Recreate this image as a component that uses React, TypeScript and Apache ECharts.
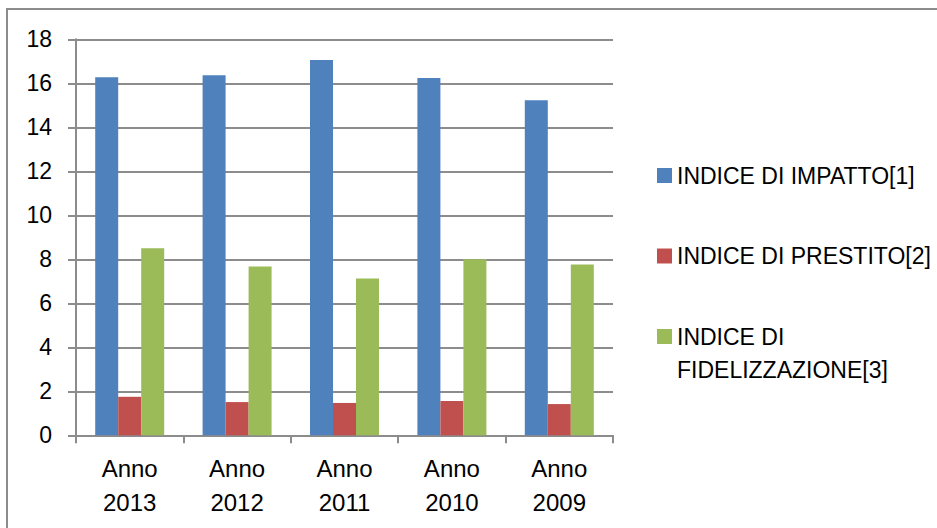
import React, { useEffect, useRef } from "react";
import * as echarts from "echarts";

// Years shown on the category axis
const categories = ["Anno 2013", "Anno 2012", "Anno 2011", "Anno 2010", "Anno 2009"];

// Index values per year
const seriesNames = ["INDICE DI IMPATTO[1]", "INDICE DI PRESTITO[2]", "INDICE DI FIDELIZZAZIONE[3]"];
const impatto = [16.27, 16.37, 17.06, 16.24, 15.23];
const prestito = [1.75, 1.51, 1.47, 1.56, 1.42];
const fidelizzazione = [8.5, 7.67, 7.13, 8.0, 7.76];

const yTicks = { min: 0, max: 18, interval: 2 };

const colors = ["#4F81BD", "#C0504D", "#9BBB59"];
const FONT = "Liberation Sans";
const GRAY = "#8c8c8c";

export default function App() {
  const ref = useRef<HTMLDivElement>(null);

  useEffect(() => {
    if (!ref.current) return;
    const chart = echarts.init(ref.current, undefined, { renderer: "svg" });

    const legendBase = {
      orient: "vertical" as const,
      left: 657,
      padding: 0,
      itemWidth: 15,
      itemHeight: 15,
      icon: "rect",
      selectedMode: false,
      textStyle: { color: "#000", fontFamily: FONT, fontSize: 23, lineHeight: 33 },
    };

    chart.setOption({
      animation: false,
      backgroundColor: "#fff",
      color: colors,
      grid: { left: 76, right: 324, top: 39.3, bottom: 92.7, containLabel: false },
      legend: [
        { ...legendBase, top: 159, data: [seriesNames[0]] },
        { ...legendBase, top: 239.5, data: [seriesNames[1]] },
        {
          ...legendBase,
          top: 287,
          data: [seriesNames[2]],
          formatter: () => "\nINDICE DI\nFIDELIZZAZIONE[3]",
        },
      ],
      xAxis: {
        type: "category",
        data: categories,
        axisLine: { show: true, lineStyle: { color: GRAY, width: 2 } },
        axisTick: { show: true, length: 8, lineStyle: { color: GRAY, width: 2 } },
        axisLabel: {
          interval: 0,
          color: "#000",
          fontFamily: FONT,
          fontSize: 24,
          lineHeight: 34,
          margin: 16,
          formatter: (v: string) => v.replace(" ", "\n"),
        },
      },
      yAxis: {
        type: "value",
        min: yTicks.min,
        max: yTicks.max,
        interval: yTicks.interval,
        axisLine: { show: true, lineStyle: { color: GRAY, width: 2 } },
        axisTick: { show: true, length: 8, lineStyle: { color: GRAY, width: 2 } },
        splitLine: { show: true, lineStyle: { color: GRAY, width: 2 } },
        axisLabel: { color: "#000", fontFamily: FONT, fontSize: 23, margin: 24 },
      },
      series: [
        { name: seriesNames[0], type: "bar", data: impatto, barWidth: 23, barGap: "0%" },
        { name: seriesNames[1], type: "bar", data: prestito, barWidth: 23, barGap: "0%" },
        { name: seriesNames[2], type: "bar", data: fidelizzazione, barWidth: 23, barGap: "0%" },
      ],
      graphic: [
        {
          type: "rect",
          shape: { x: 7, y: 9, width: 1000, height: 1000 },
          style: { fill: "none", stroke: GRAY, lineWidth: 2 },
          silent: true,
        },
      ],
    });

    return () => chart.dispose();
  }, []);

  return (
    <div
      ref={ref}
      style={{ position: "absolute", left: 0, top: 0, width: 937, height: 528 }}
    />
  );
}
